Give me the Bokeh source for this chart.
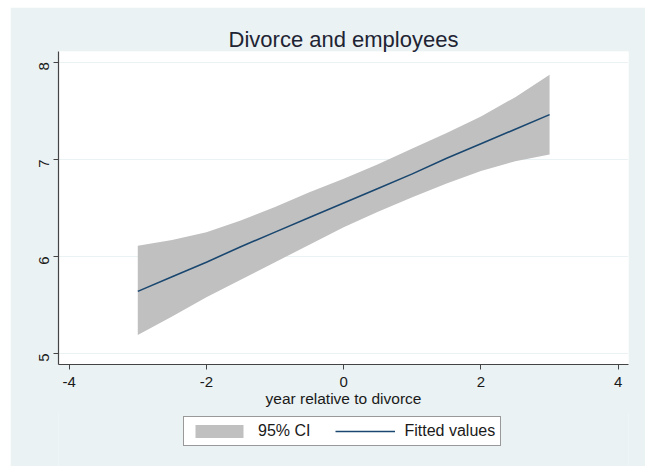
import math
from bokeh.plotting import figure
from bokeh.models import Range1d, FixedTicker, Legend, LegendItem, ColumnDataSource
from bokeh.layouts import column
from bokeh.embed import file_html
from bokeh.resources import INLINE

# ---- data ----
x_pts = [-3, -2.5, -2, -1.5, -1, -0.5, 0, 0.5, 1, 1.5, 2, 2.5, 3]
fitted = [5.64, 5.79, 5.94, 6.10, 6.25, 6.40, 6.55, 6.70, 6.85, 7.01, 7.16, 7.31, 7.46]
ci_upper = [6.11, 6.17, 6.25, 6.37, 6.51, 6.66, 6.80, 6.95, 7.11, 7.27, 7.44, 7.64, 7.87]
ci_lower = [5.19, 5.38, 5.58, 5.76, 5.94, 6.12, 6.30, 6.46, 6.61, 6.75, 6.88, 6.98, 7.05]
x_ticks = [-4, -2, 0, 2, 4]
y_ticks = [5, 6, 7, 8]
title_text = "Divorce and employees"
x_label = "year relative to divorce"
legend_labels = ["95% CI", "Fitted values"]

FONT = "Liberation Sans"
BG = "#EAF2F3"
TXT = "#1a1a1a"
BAND = "#C0C0C0"
LINE = "#1a476f"

src = ColumnDataSource(dict(x=x_pts, fit=fitted, up=ci_upper, lo=ci_lower))

p = figure(width=635, height=406, output_backend="svg", toolbar_location=None,
           x_range=Range1d(-4.155, 4.15), y_range=Range1d(4.887, 8.11),
           min_border_left=48, min_border_right=17, min_border_top=44, min_border_bottom=49,
           background_fill_color="white", border_fill_color=BG, outline_line_color=None,
           margin=(7, 0, 0, 10))

band = p.varea(x="x", y1="lo", y2="up", source=src, fill_color=BAND, fill_alpha=1.0)
line = p.line(x="x", y="fit", source=src, line_color=LINE, line_width=1.6)

# title
p.title.text = title_text
p.title.align = "center"
p.title.text_font = FONT
p.title.text_font_size = "22px"
p.title.text_font_style = "normal"
p.title.text_color = "#1e2433"
p.title.standoff = 0

# grids
p.xgrid.visible = False
p.ygrid.grid_line_color = BG
p.ygrid.grid_line_width = 1.2
p.ygrid.ticker = FixedTicker(ticks=y_ticks)

for ax in (p.xaxis[0], p.yaxis[0]):
    ax.axis_line_color = "#444444"
    ax.axis_line_width = 1.2
    ax.major_tick_line_color = "#444444"
    ax.major_tick_out = 5
    ax.major_tick_in = 0
    ax.minor_tick_line_color = None
    ax.major_label_text_font = FONT
    ax.major_label_text_font_size = "15px"
    ax.major_label_text_color = TXT
    ax.axis_label_text_font = FONT
    ax.axis_label_text_font_style = "normal"
    ax.axis_label_text_color = TXT

p.xaxis.ticker = FixedTicker(ticks=x_ticks)
p.yaxis.ticker = FixedTicker(ticks=y_ticks)
p.xaxis.major_label_overrides = {t: str(t) for t in x_ticks}
p.yaxis.major_label_overrides = {t: str(t) for t in y_ticks}
p.yaxis.major_label_orientation = math.pi / 2
p.xaxis.major_label_standoff = 7
p.yaxis.major_label_standoff = 9
p.xaxis.axis_label = x_label
p.xaxis.axis_label_text_font_size = "15.5px"
p.xaxis.axis_label_standoff = 0

# legend strip (separate figure so the legend is not clipped by the plot frame);
# proxy renderers use the same data but lie outside this strip's ranges
p2 = figure(width=635, height=54, output_backend="svg", toolbar_location=None,
            x_range=Range1d(100, 101), y_range=Range1d(100, 101),
            x_axis_location=None, y_axis_location=None,
            min_border_left=0, min_border_right=0, min_border_top=0, min_border_bottom=0,
            background_fill_color=BG, border_fill_color=BG, outline_line_color=None,
            margin=(-1, 0, 0, 10))
p2.grid.visible = False
lg_band = p2.varea(x="x", y1="lo", y2="up", source=src, fill_color=BAND, fill_alpha=1.0)
lg_line = p2.line(x="x", y="fit", source=src, line_color=LINE, line_width=1.6)

legend = Legend(items=[LegendItem(label=legend_labels[0], renderers=[lg_band]),
                       LegendItem(label=legend_labels[1], renderers=[lg_line])],
                orientation="horizontal", location=(125, 20),
                glyph_width=60, glyph_height=16, label_standoff=9, spacing=25,
                padding=5, margin=0,
                label_text_font=FONT, label_text_font_size="16px", label_text_color=TXT,
                label_height=18,
                background_fill_color="white", background_fill_alpha=1.0,
                border_line_color="#333333", border_line_width=1)
p2.add_layout(legend, "center")

lay = column(p, p2, spacing=0)
open("out.html", "w").write(file_html(lay, INLINE))
